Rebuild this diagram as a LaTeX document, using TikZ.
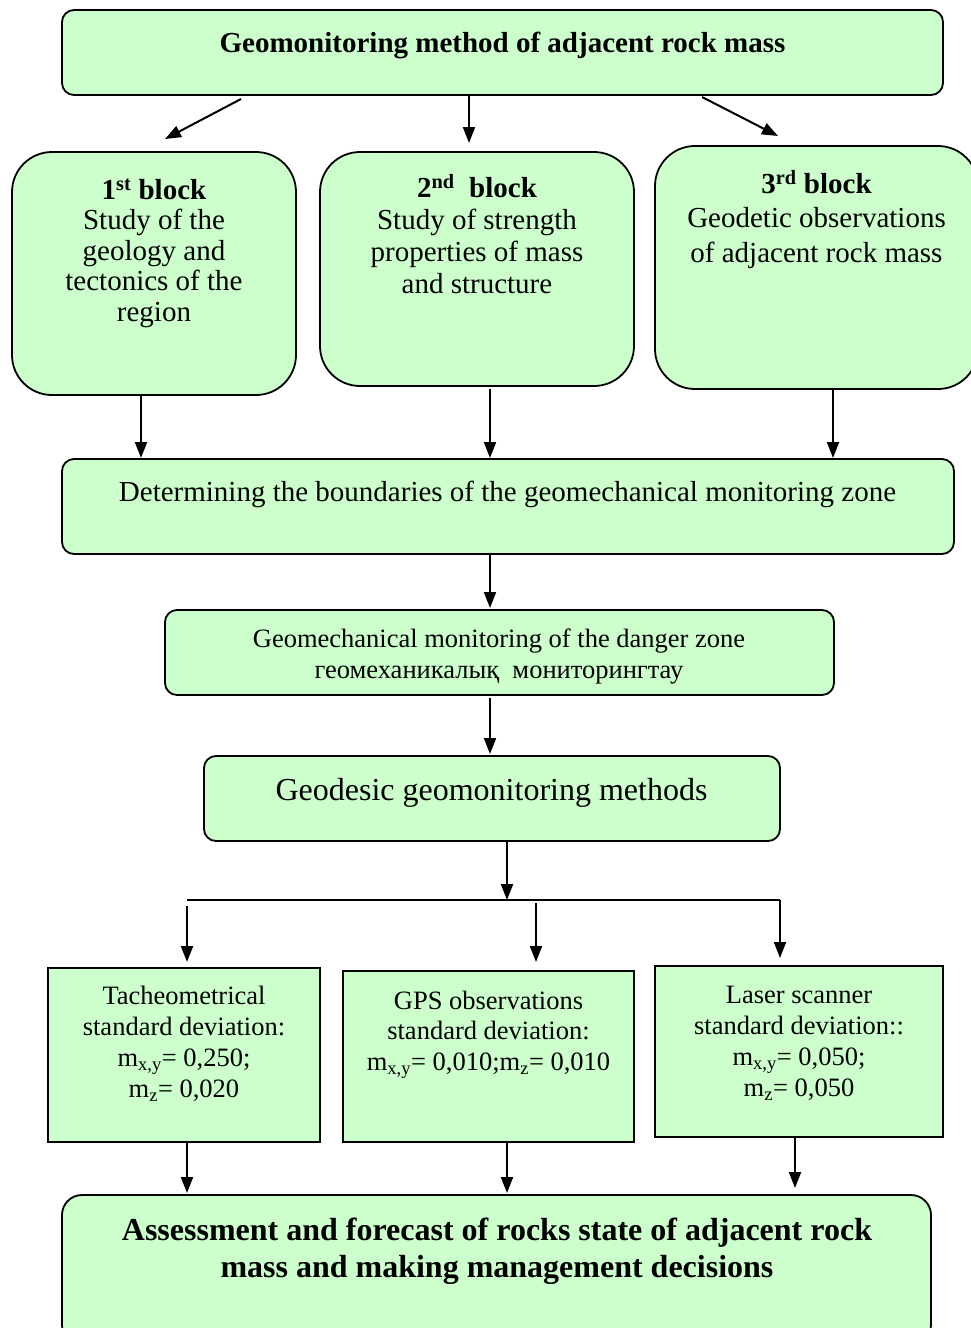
\documentclass[tikz,border=0pt]{standalone}
\usepackage{fontspec}
\setmainfont{Liberation Serif}
\usetikzlibrary{arrows.meta,calc}
\definecolor{boxgreen}{HTML}{CCFFCC}
\tikzset{
  box/.style={draw=black, line width=1.8pt, fill=boxgreen, inner sep=0pt, outer sep=0pt},
  rbox/.style={box, rounded corners=12pt},
  bigr/.style={box, rounded corners=40pt},
  txt/.style={inner sep=0pt, outer sep=0pt, align=center, anchor=north},
  btxt/.style={inner sep=0pt, outer sep=0pt, anchor=base},
  arr/.style={line width=2pt, -{Triangle[length=16pt,width=12pt]}},
  plain/.style={line width=2pt}
}
\begin{document}
\begin{tikzpicture}[x=1pt,y=-1pt]
\useasboundingbox (0,0) rectangle (971,1328);
% boxes
\node[rbox, minimum width=881pt, minimum height=85pt] (top) at (502.5,52.5) {};
\node[bigr, minimum width=284pt, minimum height=243pt] (b1) at (154,273.5) {};
\node[bigr, minimum width=314pt, minimum height=234pt] (b2) at (477,269) {};
\node[bigr, minimum width=323pt, minimum height=243pt] (b3) at (816.5,267.5) {};
\node[rbox, minimum width=892pt, minimum height=95pt] (det) at (508,506.5) {};
\node[rbox, minimum width=669pt, minimum height=85pt] (gm) at (499.5,652.5) {};
\node[rbox, minimum width=576pt, minimum height=85pt] (geo) at (492,798.5) {};
\node[box, minimum width=272pt, minimum height=174pt] (tach) at (184,1055) {};
\node[box, minimum width=291pt, minimum height=171pt] (gps) at (488.5,1056.5) {};
\node[box, minimum width=288pt, minimum height=171pt] (laser) at (799,1051.5) {};
\node[box, rounded corners=20pt, minimum width=869pt, minimum height=150pt] (fin) at (496.5,1270) {};
% texts
\node[btxt, font=\fontsize{29}{33}\selectfont\bfseries] (ttop) at (502.5,52) {Geomonitoring method of adjacent rock mass};
\node[txt, font=\fontsize{29}{30.5}\selectfont] (tb1) at (154,177.8) {\strut\textbf{1\textsuperscript{st} block}\\Study of the\\geology and\\tectonics of the\\region};
\node[txt, font=\fontsize{29}{31.7}\selectfont] (tb2) at (477,174.8) {\strut\textbf{2\textsuperscript{nd}\ \ block}\\Study of strength\\properties of mass\\and structure};
\node[txt, font=\fontsize{29}{34.5}\selectfont] (tb3) at (816.5,168.9) {\strut\textbf{3\textsuperscript{rd} block}\\Geodetic observations\\of adjacent rock mass};
\node[btxt, font=\fontsize{29}{33}\selectfont] (tdet) at (507.5,501) {Determining the boundaries of the geomechanical monitoring zone};
\node[txt, font=\fontsize{26.5}{31}\selectfont] (tgm) at (499,625.8) {\strut Geomechanical monitoring of the danger zone\\геомеханикалық\ \ мониторингтау};
\node[btxt, font=\fontsize{32}{36}\selectfont] (tgeo) at (491.5,800) {Geodesic geomonitoring methods};
\node[txt, font=\fontsize{26.5}{31}\selectfont] (ttach) at (184,982.8) {\strut Tacheometrical\\standard deviation:\\m\textsubscript{x,y}= 0,250;\\m\textsubscript{z}= 0,020};
\node[txt, font=\fontsize{26.5}{30.8}\selectfont] (tgps) at (488.5,987.6) {\strut GPS observations\\standard deviation:\\m\textsubscript{x,y}= 0,010;m\textsubscript{z}= 0,010};
\node[txt, font=\fontsize{26.5}{31}\selectfont] (tlaser) at (799,981.8) {\strut Laser scanner\\standard deviation::\\m\textsubscript{x,y}= 0,050;\\m\textsubscript{z}= 0,050};
\node[txt, font=\fontsize{32}{37.5}\selectfont\bfseries] (tfin) at (497,1214.1) {\strut Assessment and forecast of rocks state of adjacent rock\\mass and making management decisions};
% connectors from the top box
\draw[arr] ([xshift=179pt,yshift=-4pt]top.south west) -- ([xshift=153pt,yshift=13pt]b1.north west);
\draw[arr] ([xshift=-33.5pt]top.south) -- ([xshift=-8pt,yshift=9pt]b2.north);
\draw[arr] ([xshift=199.5pt,yshift=-2pt]top.south) -- ([xshift=123pt,yshift=10pt]b3.north west);
% blocks to determining
\coordinate (c1) at ([xshift=-13pt]b1.south);
\coordinate (c2) at ([xshift=13pt,yshift=-3pt]b2.south);
\coordinate (c3) at ([xshift=16.5pt]b3.south);
\draw[arr, shorten >=1pt] (c1) -- (c1 |- det.north);
\draw[arr, shorten >=1pt] (c2) -- (c2 |- det.north);
\draw[arr, shorten >=1pt] (c3) -- (c3 |- det.north);
% chain
\coordinate (c4) at ([xshift=-18pt]det.south);
\draw[arr, shorten >=2pt] (c4) -- (c4 |- gm.north);
\coordinate (c5) at ([xshift=-9.5pt,yshift=-3pt]gm.south);
\draw[arr, shorten >=2pt] (c5) -- (c5 |- geo.north);
% distribution bar
\coordinate (barL) at (187,900);
\coordinate (barR) at (780,900);
\coordinate (c6) at ([xshift=15pt]geo.south);
\draw[arr] (c6) -- (c6 |- barL);
\draw[plain] (barL) -- (barR);
\draw[arr, shorten >=8pt] (barR) -- (barR |- laser.north);
\coordinate (d1) at (187,906);
\coordinate (d2) at (536,903);
\draw[arr, shorten >=6pt] (d1) -- (d1 |- tach.north);
\draw[arr, shorten >=9pt] (d2) -- (d2 |- gps.north);
% to final
\coordinate (e1) at ([xshift=3pt]tach.south);
\coordinate (e2) at ([xshift=18.5pt]gps.south);
\coordinate (e3) at ([xshift=-4pt]laser.south);
\draw[arr, shorten >=2pt] (e1) -- (e1 |- fin.north);
\draw[arr, shorten >=2pt] (e2) -- (e2 |- fin.north);
\draw[arr, shorten >=7pt] (e3) -- (e3 |- fin.north);
\end{tikzpicture}
\end{document}
